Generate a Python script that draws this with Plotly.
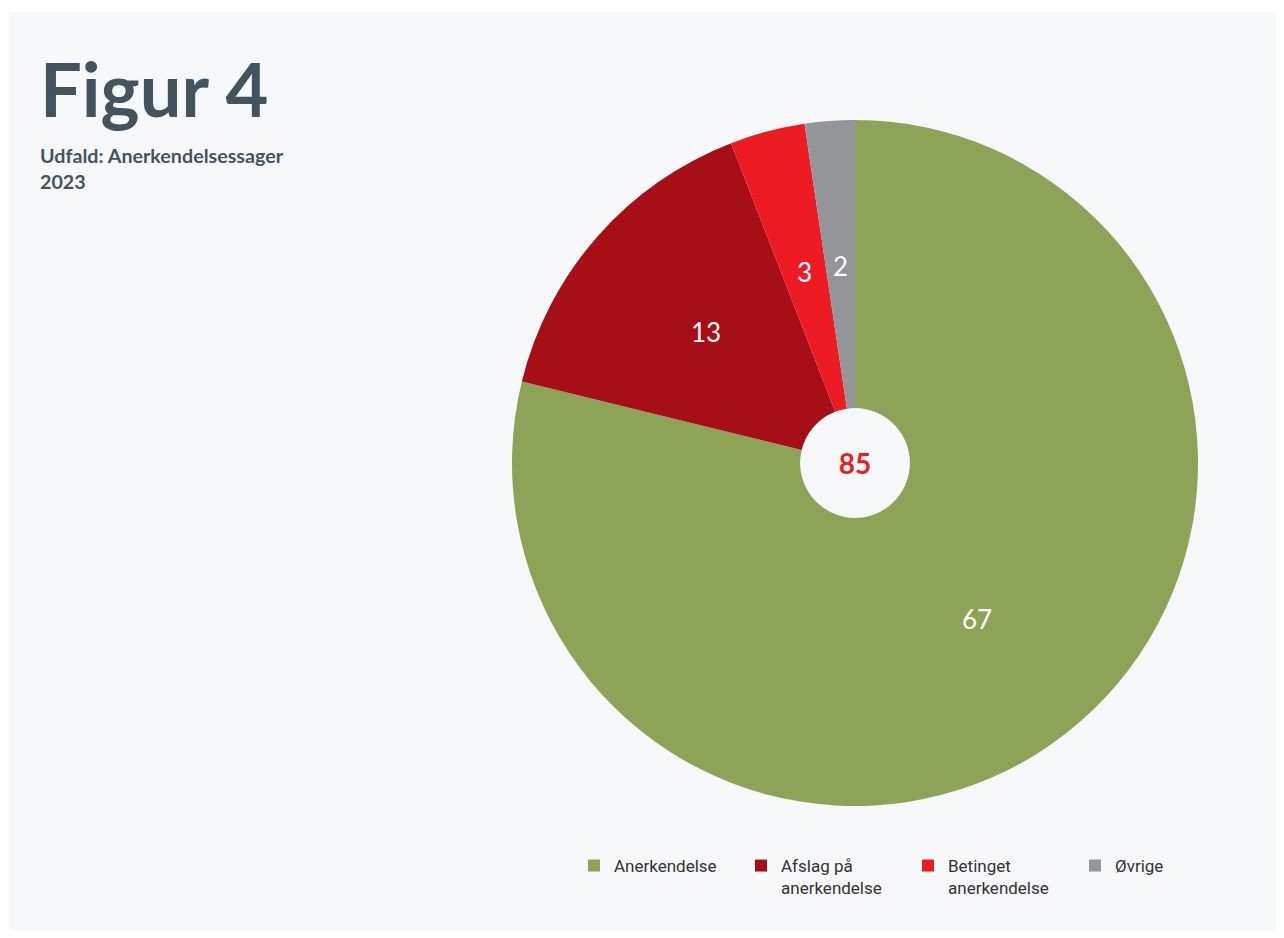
import math
import plotly.graph_objects as go

kategorier = ["Anerkendelse", "Afslag på<br>anerkendelse", "Betinget<br>anerkendelse", "Øvrige"]
antal = [67, 13, 3, 2]
farver = ["#8da358", "#a50f15", "#ed1c24", "#939598"]

# siden har 8px kant i browseren, så figuren gøres tilsvarende mindre
FW, FH = 1276, 930


def px(x):
    return (x - 8) / FW


def py(y):
    return 1 - (y - 8) / FH


cx, cy, r = 855, 463, 343
label_r = 198

fig = go.Figure()

fig.add_trace(go.Pie(
    labels=kategorier,
    values=antal,
    sort=False,
    direction="clockwise",
    rotation=0,
    hole=0.16,
    marker=dict(colors=farver, line=dict(width=0)),
    textinfo="none",
    title=dict(text="<b>%d</b>" % sum(antal), position="middle center",
               font=dict(family="Lato", size=28, color="#ed1c24")),
    domain=dict(x=[px(cx - r), px(cx + r)], y=[py(cy + r), py(cy - r)]),
    hoverinfo="label+value",
))

# værdietiketter midt i hvert udsnit
total = sum(antal)
start = 0
for v in antal:
    midt = (start + v / 2) / total * 2 * math.pi
    start += v
    fig.add_annotation(
        x=px(cx + label_r * math.sin(midt)), y=py(cy - label_r * math.cos(midt)),
        xref="paper", yref="paper", xanchor="center", yanchor="middle",
        showarrow=False,
        text=str(v), font=dict(family="Lato", size=26, color="white"))

# lys baggrundsflade
fig.add_shape(type="rect", xref="paper", yref="paper",
              x0=px(9), x1=px(1278), y0=py(930), y1=py(12),
              fillcolor="#f7f8fa", line=dict(width=0), layer="below")

fig.add_annotation(x=px(38), y=py(42), xref="paper", yref="paper",
                   xanchor="left", yanchor="top", showarrow=False,
                   text="<b>Figur 4</b>",
                   font=dict(family="Lato", size=74, color="#44545f"))
fig.add_annotation(x=px(38), y=py(142), xref="paper", yref="paper",
                   xanchor="left", yanchor="top", showarrow=False, align="left",
                   text="<b>Udfald: Anerkendelsessager<br>2023</b>",
                   font=dict(family="Lato", size=19.7, color="#44545f"))

fig.update_layout(
    width=FW, height=FH,
    margin=dict(l=0, r=0, t=0, b=0),
    paper_bgcolor="white",
    plot_bgcolor="white",
    showlegend=True,
    legend=dict(
        orientation="h",
        x=px(574), y=py(848),
        xanchor="left", yanchor="top",
        entrywidth=122,
        bgcolor="rgba(0,0,0,0)",
        font=dict(family="Roboto, sans-serif", size=17, color="#333333"),
        traceorder="normal",
        valign="top",
    ),
)

fig.write_html("out.html")
